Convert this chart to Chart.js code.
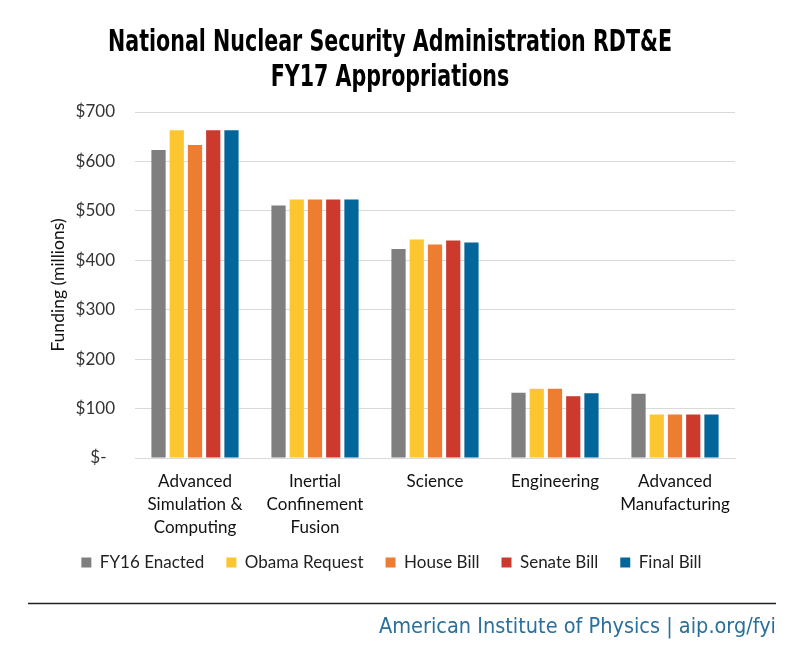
<!DOCTYPE html>
<html>
<head>
<meta charset="utf-8">
<script src="https://cdn.jsdelivr.net/npm/chart.js@4.4.1/dist/chart.umd.min.js"></script>
<style>
  html, body { margin: 0; padding: 0; background: #fff; }
  #wrap { position: relative; width: 800px; height: 650px; }
  canvas { display: block; }
</style>
</head>
<body>
<div id="wrap"><canvas id="c" width="800" height="650"></canvas></div>
<script>
const categories = [
  ["Advanced", "Simulation &", "Computing"],
  ["Inertial", "Confinement", "Fusion"],
  "Science",
  "Engineering",
  ["Advanced", "Manufacturing"]
];
const seriesNames = ["FY16 Enacted", "Obama Request", "House Bill", "Senate Bill", "Final Bill"];
const fy16Enacted   = [623, 511, 423, 132, 130];
const obamaRequest  = [663, 523, 442, 140, 88];
const houseBill     = [633, 523, 432, 140, 88];
const senateBill    = [663, 523, 440, 125, 88];
const finalBill     = [663, 523, 436, 131, 88];
const yTicks = [0, 100, 200, 300, 400, 500, 600, 700];
const yTickLabels = ["$-\u2002", "$100", "$200", "$300", "$400", "$500", "$600", "$700"];
const titleLines = ["National Nuclear Security Administration RDT&E", "FY17 Appropriations"];
const yAxisTitle = "Funding (millions)";
const footerText = "American Institute of Physics | aip.org/fyi";

const colors = ["#7f7f7f", "#fbc630", "#ed7d31", "#cc3a2e", "#03669a"];
const values = [fy16Enacted, obamaRequest, houseBill, senateBill, finalBill];

const condensed = "'DejaVu Sans Condensed', 'Liberation Sans Narrow', sans-serif";
const bodyFont = "Lato, 'Open Sans', sans-serif";

const textPlugin = {
  id: 'texts',
  afterDraw(chart) {
    const ctx = chart.ctx;
    ctx.save();
    // title
    ctx.fillStyle = '#000';
    ctx.font = "bold 30px " + condensed;
    ctx.textBaseline = 'alphabetic';
    ctx.textAlign = 'center';
    const w1 = ctx.measureText(titleLines[0]).width;
    const sx = 564 / w1;
    const cx = 390;
    [[titleLines[0], 51], [titleLines[1], 86]].forEach(([t, y]) => {
      ctx.save();
      ctx.translate(cx, y);
      ctx.scale(sx, 1);
      ctx.fillText(t, 0, 0);
      ctx.restore();
    });
    // footer rule
    ctx.strokeStyle = '#222';
    ctx.lineWidth = 1.5;
    ctx.beginPath();
    ctx.moveTo(28, 603.5);
    ctx.lineTo(776, 603.5);
    ctx.stroke();
    // footer text
    ctx.fillStyle = '#2b6f9b';
    ctx.font = "22px " + condensed;
    ctx.textAlign = 'right';
    const wf = ctx.measureText(footerText).width;
    const fx = 397 / wf;
    ctx.translate(776, 633);
    ctx.scale(fx, 1);
    ctx.fillText(footerText, 0, 0);
    ctx.restore();
  }
};

new Chart(document.getElementById('c'), {
  type: 'bar',
  data: {
    labels: categories,
    datasets: seriesNames.map((n, i) => ({
      label: n,
      data: values[i],
      backgroundColor: colors[i],
      borderWidth: 0,
      categoryPercentage: 0.76,
      barPercentage: 0.78
    }))
  },
  options: {
    responsive: false,
    animation: false,
    devicePixelRatio: 1,
    layout: { padding: { left: 48, right: 65, top: 112, bottom: 69 } },
    plugins: {
      title: { display: false },
      legend: {
        position: 'bottom',
        labels: {
          color: '#222',
          font: { family: bodyFont, size: 17 },
          boxWidth: 10,
          boxHeight: 10,
          padding: 22
        }
      },
      tooltip: { enabled: false }
    },
    scales: {
      x: {
        grid: { display: false, drawTicks: false },
        border: { display: true, color: '#d9d9d9' },
        afterFit(scale) {
          scale.height = 74;
          scale._computeLabelArea = () => undefined; // let the 3-line labels overflow into the legend gap
        },
        ticks: { color: '#111', font: { family: bodyFont, size: 17, lineHeight: 1.36 }, maxRotation: 0, padding: 12 }
      },
      y: {
        min: 0, max: 700,
        afterBuildTicks(scale) { scale.ticks = yTicks.map(v => ({ value: v })); },
        afterFit(scale) { scale.width = 87; },
        grid: { color: '#d9d9d9', drawTicks: false },
        border: { display: false },
        ticks: {
          color: '#333',
          font: { family: bodyFont, size: 17 },
          padding: 20,
          callback: (v) => yTickLabels[yTicks.indexOf(v)]
        },
        title: {
          display: true,
          text: yAxisTitle,
          color: '#111',
          font: { family: bodyFont, size: 17.5 },
          padding: { top: 0, bottom: 0 }
        }
      }
    }
  },
  plugins: [textPlugin]
});
</script>
</body>
</html>
